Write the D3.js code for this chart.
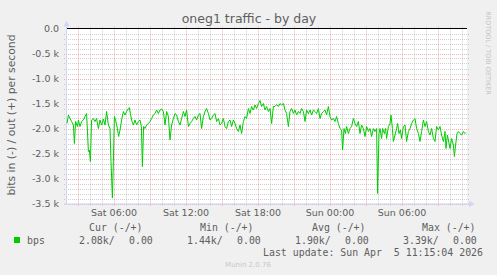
<!DOCTYPE html>
<html>
<head>
<meta charset="utf-8">
<script src="https://cdn.jsdelivr.net/npm/d3@7"></script>
<style>
  body { margin: 0; background: #f0f0f0; }
  svg { display: block; font-family: "DejaVu Sans", sans-serif; }
  .mono { font-family: "DejaVu Sans Mono", monospace; }
</style>
</head>
<body>
<script>

// minutes after Sat 02:05 and the inbound bits (drawn negative)
var minutes = [
	0,7,15,23,32,37,43,52,57,65,73,82,90,98,107,112,117,123,132,140,148,157,165,173,182,190,198,207,215,220,
	227,232,237,243,252,258,265,273,282,290,298,307,312,318,325,332,340,348,357,365,372,377,383,390,398,407,415,423,432,440,
	448,457,465,473,482,490,498,507,515,523,532,540,548,557,565,573,582,590,598,607,615,623,632,640,648,657,665,673,682,690,
	698,707,715,723,732,740,748,757,765,773,782,790,798,807,815,823,832,840,848,857,865,873,882,890,898,907,915,923,932,940,
	948,957,965,973,982,990,998,1007,1015,1023,1032,1040,1048,1057,1065,1073,1082,1090,1098,1107,1115,1123,1132,1140,1148,1157,1165,1173,1182,1190,
	1198,1207,1215,1223,1232,1240,1248,1257,1265,1273,1282,1290,1298,1307,1315,1323,1332,1340,1348,1357,1365,1373,1378,1385,1392,1398,1407,1415,1423,1432,
	1440,1448,1457,1465,1473,1482,1490,1498,1507,1515,1523,1532,1540,1548,1553,1560,1565,1573,1578,1587,1593,1598,1607,1615,1620,1627,1632,1640,1648,1653,
	1660,1667,1673,1682,1690,1698,1707,1715,1723,1732,1740,1748,1757,1765,1773,1782,1790,1798,1807,1815,1823,1832,1840,1848,1857,1865,1873,1882,1890,1895,
	1902,1907,1915,1923,1932,1937,1943,1950,1957,1965,1973,1982,1990,1995
];
var bitsIn = [
	-1900,-1730,-1800,-1860,-1930,-2300,-1860,-1960,-1830,-1960,-1860,-1830,-1760,-1700,-2460,-2430,-2660,-1830,-1800,-1860,-1800,-2000,-1830,-1930,-1810,-1930,-1660,-1930,-2000,-2660,
	-3390,-2660,-1760,-1830,-2000,-2160,-2030,-1830,-1660,-1730,-1660,-1600,-1580,-1730,-1860,-1930,-1830,-1930,-1860,-1830,-1960,-2760,-1960,-2000,-1930,-1900,-1860,-1800,-1730,-1700,
	-1630,-1700,-1630,-1610,-1660,-1930,-1660,-1760,-2230,-1930,-1800,-1700,-1730,-1860,-1930,-1800,-1660,-1760,-1630,-1960,-1900,-1860,-1800,-1760,-1830,-1730,-1700,-2000,-1760,-1660,
	-1600,-1700,-1830,-1800,-1730,-1700,-1860,-1800,-1930,-1900,-1800,-1960,-2000,-1860,-1830,-1960,-1830,-1900,-2000,-2060,-1930,-2100,-1860,-1760,-1800,-1600,-1700,-1560,-1630,-1530,
	-1600,-1500,-1440,-1560,-1500,-1630,-1560,-1660,-1600,-1900,-1560,-1560,-1520,-1560,-1500,-1530,-1500,-1630,-1700,-1960,-1660,-1600,-1700,-1630,-1730,-1660,-1700,-1600,-1660,-1860,
	-1630,-1700,-1630,-1730,-1630,-1660,-1700,-1600,-1800,-1700,-1660,-1630,-1730,-1560,-1760,-1830,-1800,-1860,-1760,-1900,-2000,-2030,-2430,-2000,-2100,-1960,-2100,-2000,-1960,-1800,
	-1900,-1960,-1860,-2100,-1930,-2000,-2160,-1960,-2060,-2000,-2160,-2000,-2060,-2000,-3300,-2100,-2000,-2200,-2000,-2100,-2000,-2200,-1960,-1900,-1730,-2000,-2260,-2130,-2000,-1900,
	-2100,-2030,-2200,-1960,-1930,-2260,-2060,-2000,-1900,-1830,-1800,-2000,-2100,-2260,-2060,-1830,-1960,-1860,-2060,-2130,-2000,-2200,-2260,-1960,-2030,-1960,-2130,-2260,-2060,-2400,
	-2130,-2230,-2400,-2200,-2330,-2560,-2330,-2100,-2060,-2100,-2130,-2060,-2100,-2080
];

var title = "oneg1 traffic - by day",
	yLabel = "bits in (-) / out (+) per second",
	legendHeads = ["Cur (-/+)", "Min (-/+)", "Avg (-/+)", "Max (-/+)"],
	legendIn = ["2.08k/", "1.44k/", "1.90k/", "3.39k/"],
	legendOut = ["0.00", "0.00", "0.00", "0.00"],
	seriesName = "bps",
	lastUpdate = "Last update: Sun Apr  5 11:15:04 2026",
	footer = "Munin 2.0.76",
	watermark = "RRDTOOL / TOBI OETIKER";

var W = 497, H = 275,
	pLeft = 67, pRight = 467, pTop = 28.5, pBottom = 203.5,
	fontCol = "#5e5e5e",
	axisCol = "#cfd6f8",
	lineCol = "#00cc00",
	gridCol = "rgba(143,143,143,0.42)",
	mgridCol = "rgba(222,79,79,0.45)";

var start = new Date(2026, 3, 4, 2, 5),
	end = new Date(start.getTime() + 2000 * 60000);

var x = d3.scaleTime().domain([start, end]).range([pLeft, pRight]);
var y = d3.scaleLinear().domain([-3500, 0]).range([pBottom, pTop]);

var svg = d3.select("body").append("svg")
	.attr("width", W)
	.attr("height", H);

svg.append("rect").attr("width", W).attr("height", H).attr("fill", "#f0f0f0");
svg.append("rect")
	.attr("x", pLeft).attr("y", pTop)
	.attr("width", pRight - pLeft).attr("height", pBottom - pTop)
	.attr("fill", "#ffffff");

var grid = svg.append("g");
function px(v) { return Math.round(v) + 0.5; }

// minor grid
x.ticks(d3.timeHour.every(1)).forEach(function(t) {
	if (t.getHours() % 3 == 0) return;
	grid.append("line")
		.attr("x1", px(x(t))).attr("x2", px(x(t)))
		.attr("y1", pTop - 2).attr("y2", pBottom + 2)
		.attr("stroke", gridCol)
		.attr("stroke-dasharray", "1,1");
});
y.ticks(35).forEach(function(v) {
	if (v % 500 == 0) return;
	grid.append("line")
		.attr("x1", pLeft - 3).attr("x2", pRight + 2)
		.attr("y1", px(y(v))).attr("y2", px(y(v)))
		.attr("stroke", gridCol)
		.attr("stroke-dasharray", "1,1");
});
// major grid
x.ticks(d3.timeHour.every(3)).forEach(function(t) {
	grid.append("line")
		.attr("x1", px(x(t))).attr("x2", px(x(t)))
		.attr("y1", pTop - 2).attr("y2", pBottom + 3)
		.attr("stroke", mgridCol)
		.attr("stroke-dasharray", "1,1");
});
y.ticks(7).forEach(function(v) {
	if (v == 0) return;
	grid.append("line")
		.attr("x1", pLeft - 3).attr("x2", pRight + 2)
		.attr("y1", px(y(v))).attr("y2", px(y(v)))
		.attr("stroke", mgridCol)
		.attr("stroke-dasharray", "1,1");
});

// axes
svg.append("line")
	.attr("x1", pLeft - 0.5).attr("x2", pLeft - 0.5)
	.attr("y1", pBottom + 0.5).attr("y2", pTop - 4)
	.attr("stroke", axisCol);
svg.append("path")
	.attr("d", "M" + (pLeft - 3.5) + "," + (pTop - 2) + "L" + (pLeft - 0.5) + "," + (pTop - 8) + "L" + (pLeft + 2.5) + "," + (pTop - 2) + "Z")
	.attr("fill", axisCol);
svg.append("line")
	.attr("x1", pLeft - 3).attr("x2", pRight + 4)
	.attr("y1", pBottom + 0.5).attr("y2", pBottom + 0.5)
	.attr("stroke", axisCol);
svg.append("path")
	.attr("d", "M" + (pRight + 2) + "," + (pBottom - 2.5) + "L" + (pRight + 8) + "," + (pBottom + 0.5) + "L" + (pRight + 2) + "," + (pBottom + 3.5) + "Z")
	.attr("fill", axisCol);

// zero line
svg.append("line")
	.attr("x1", pLeft).attr("x2", pRight)
	.attr("y1", y(0)).attr("y2", y(0))
	.attr("stroke", "#000");

// tick labels
var fmt = d3.timeFormat("%a %H:%M");
svg.selectAll(".xl")
	.data(x.ticks(d3.timeHour.every(6)))
	.enter().append("text")
	.attr("class", "xl")
	.attr("x", function(d) { return x(d); })
	.attr("y", 216)
	.attr("text-anchor", "middle")
	.attr("font-size", "9.5px")
	.attr("fill", fontCol)
	.text(fmt);

svg.selectAll(".yl")
	.data(y.ticks(7))
	.enter().append("text")
	.attr("class", "yl")
	.attr("x", 59)
	.attr("y", function(d) { return y(d) + 3.5; })
	.attr("text-anchor", "end")
	.attr("font-size", "9.5px")
	.attr("fill", fontCol)
	.text(function(d) { return d == 0 ? "0.0" : (d / 1000).toFixed(1) + " k"; });

// data
var pts = minutes.map(function(m, i) {
	return { t: new Date(start.getTime() + m * 60000), v: bitsIn[i] };
});
svg.append("path")
	.datum(pts)
	.attr("fill", "none")
	.attr("stroke", lineCol)
	.attr("stroke-width", 1)
	.attr("d", d3.line()
		.x(function(d) { return x(d.t); })
		.y(function(d) { return y(d.v); }));

// titles
svg.append("text")
	.attr("x", 249).attr("y", 23)
	.attr("text-anchor", "middle")
	.attr("font-size", "12.5px")
	.attr("fill", fontCol)
	.text(title);

svg.append("text")
	.attr("transform", "translate(14.5," + 115 + ") rotate(-90)")
	.attr("text-anchor", "middle")
	.attr("font-size", "10.8px")
	.attr("fill", fontCol)
	.text(yLabel);

svg.append("text")
	.attr("transform", "translate(486,53) rotate(90)")
	.attr("text-anchor", "middle")
	.attr("font-size", "6.5px")
	.attr("fill", "#c4c4c4")
	.text(watermark);

// legend
var headX = [89, 200, 312, 422],
	inX = [79, 187, 295, 403],
	outX = [129, 237, 345, 453];
legendHeads.forEach(function(s, i) {
	svg.append("text").attr("class", "mono")
		.attr("x", headX[i]).attr("y", 231)
		.attr("font-size", "9.9px").attr("fill", fontCol)
		.text(s);
	svg.append("text").attr("class", "mono")
		.attr("x", inX[i]).attr("y", 243.5)
		.attr("font-size", "9.9px").attr("fill", fontCol)
		.text(legendIn[i]);
	svg.append("text").attr("class", "mono")
		.attr("x", outX[i]).attr("y", 243.5)
		.attr("font-size", "9.9px").attr("fill", fontCol)
		.text(legendOut[i]);
});
svg.append("rect")
	.attr("x", 14).attr("y", 237)
	.attr("width", 6).attr("height", 6)
	.attr("fill", lineCol);
svg.append("text").attr("class", "mono")
	.attr("x", 27).attr("y", 243.5)
	.attr("font-size", "9.9px").attr("fill", fontCol)
	.text(seriesName);
svg.append("text").attr("class", "mono")
	.attr("x", 483).attr("y", 255.5)
	.attr("text-anchor", "end")
	.attr("font-size", "9.9px").attr("fill", fontCol)
	.style("white-space", "pre")
	.text(lastUpdate);
svg.append("text")
	.attr("x", 248).attr("y", 267)
	.attr("text-anchor", "middle")
	.attr("font-size", "7px")
	.attr("fill", "#c8c8c8")
	.text(footer);

</script>
</body>
</html>
